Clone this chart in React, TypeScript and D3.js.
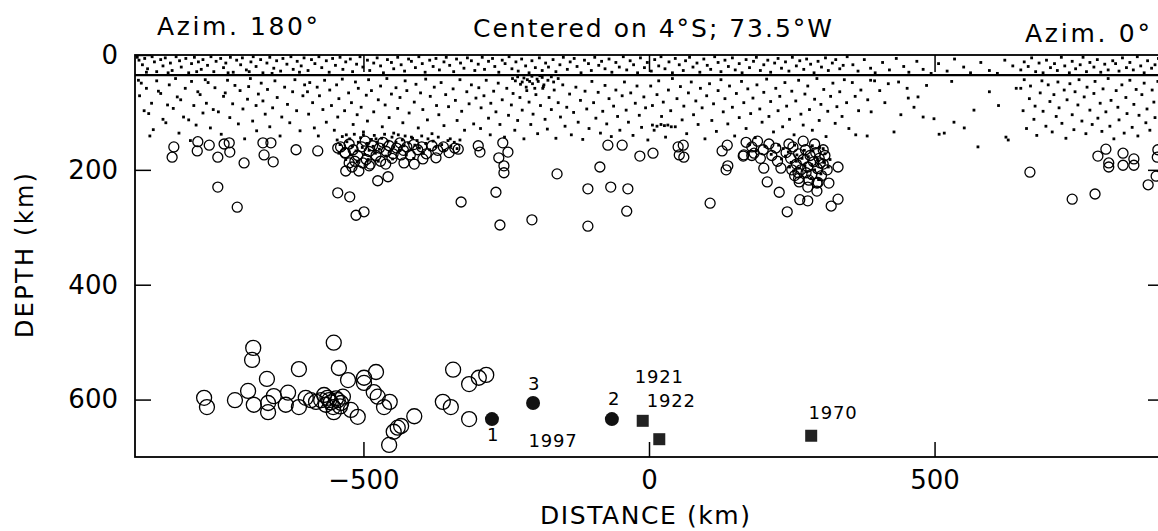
import { useEffect, useRef } from 'react';
import * as d3 from 'd3';

// [distance km, depth km]
type Pt = [number, number];

const xTicks = [-500, 0, 500];
const yTicks = [0, 200, 400, 600];
const mohoDepth = 35;

// shallow events above the 35 km line
const crustDots: Pt[] = [
  [-896, 4], [-893, 9], [-887, 17], [-883, 6], [-878, 24], [-870, 3], [-866, 12], [-862, 29], [-855, 8], [-851, 19],
  [-847, 5], [-838, 14], [-835, 27], [-828, 3], [-822, 10], [-819, 21], [-811, 6], [-806, 31], [-801, 15], [-796, 4],
  [-789, 12], [-784, 25], [-781, 8], [-773, 18], [-767, 3], [-762, 29], [-758, 11], [-750, 6], [-745, 22], [-741, 14],
  [-733, 4], [-728, 30], [-722, 9], [-715, 17], [-712, 5], [-705, 26], [-697, 12], [-693, 3], [-688, 20], [-680, 8],
  [-676, 31], [-669, 14], [-664, 4], [-657, 23], [-652, 10], [-645, 28], [-641, 6], [-634, 16], [-627, 3], [-623, 25],
  [-616, 11], [-609, 19], [-604, 5], [-880, 30], [-842, 31], [-792, 29], [-737, 31], [-700, 29], [-660, 32], [-612, 30],
  [-597, 27], [-591, 8], [-585, 15], [-578, 3], [-573, 22], [-565, 10], [-560, 30], [-554, 6], [-549, 18], [-541, 4],
  [-536, 25], [-531, 12], [-523, 7], [-519, 29], [-512, 16], [-506, 3], [-501, 21], [-493, 9], [-489, 27], [-482, 14],
  [-476, 5], [-470, 19], [-465, 31], [-458, 8], [-451, 13], [-447, 24], [-440, 4], [-434, 17], [-428, 28], [-421, 7],
  [-416, 11], [-409, 22], [-403, 3], [-397, 15], [-392, 30], [-384, 9], [-378, 20], [-373, 6], [-367, 26], [-359, 12],
  [-355, 4], [-349, 18], [-342, 29], [-337, 7], [-330, 14], [-324, 23], [-318, 5], [-311, 10], [-305, 27],
  [-299, 16], [-292, 4], [-288, 25], [-281, 11], [-274, 6], [-270, 20], [-263, 30], [-257, 9], [-252, 15], [-245, 3],
  [-240, 24], [-233, 12], [-229, 28], [-223, 7], [-216, 19], [-210, 31], [-205, 10], [-199, 22], [-192, 5], [-187, 27],
  [-181, 14], [-176, 21], [-168, 8], [-163, 29], [-156, 17], [-150, 4], [-143, 25], [-138, 12], [-131, 6], [-126, 20],
  [-119, 31], [-113, 9], [-106, 15], [-101, 27], [-95, 4], [-88, 18], [-83, 11], [-77, 24], [-70, 7], [-65, 30],
  [-58, 13], [-52, 21], [-45, 3], [-39, 26], [-33, 10], [-27, 17], [-20, 31], [-15, 5], [-8, 22], [-3, 13],
  [4, 28], [10, 8], [17, 19], [21, 3], [28, 24], [35, 12], [41, 31], [46, 6], [53, 17], [60, 27],
  [64, 10], [71, 4], [77, 21], [84, 14], [89, 30], [96, 7], [102, 18], [108, 25], [115, 3], [121, 13],
  [126, 29], [133, 9], [139, 20], [146, 5], [151, 26], [158, 15], [163, 31], [170, 8], [176, 22], [183, 11],
  [188, 4], [195, 27], [201, 17], [208, 9], [213, 30], [220, 14], [226, 6], [232, 23], [239, 12], [245, 28],
  [251, 4], [258, 19], [264, 10], [271, 25], [276, 7], [283, 16], [289, 31], [296, 11], [302, 21], [309, 5],
  [314, 27], [321, 14], [327, 8], [334, 24], [340, 18], [347, 3],
  [357, 17], [366, 28], [377, 8], [388, 23], [396, 31], [409, 13], [421, 26], [433, 6], [446, 20], [455, 30],
  [469, 11], [480, 25], [494, 32], [507, 15], [522, 28], [535, 7], [551, 21], [563, 31], [581, 13], [596, 27],
  [610, 32], [623, 9], [637, 19],
  [651, 26], [657, 12], [664, 20], [670, 5], [677, 29], [683, 14], [690, 31], [696, 9], [703, 22], [710, 15],
  [715, 27], [722, 4], [728, 19], [736, 31], [741, 11], [747, 24], [755, 17], [760, 4], [766, 29], [772, 13],
  [779, 21], [785, 8], [791, 30], [798, 16], [804, 26], [812, 10], [817, 15], [823, 28], [829, 5], [836, 22],
  [842, 13], [848, 26], [855, 3], [861, 19], [867, 31], [873, 10], [880, 23], [886, 17], [892, 6], [897, 29],
];

// shallow events below the 35 km line
const mantleDots: Pt[] = [
  [-894, 44], [-889, 49], [-892, 71], [-880, 58], [-884, 97], [-876, 102], [-871, 84], [-868, 130], [-874, 141], [-859, 63],
  [-862, 45], [-855, 67], [-851, 112], [-846, 118], [-840, 52], [-843, 87], [-833, 93], [-829, 41], [-826, 73], [-820, 78],
  [-823, 136], [-812, 58], [-815, 108], [-806, 113], [-801, 46], [-797, 88], [-803, 149], [-790, 64], [-786, 69], [-793, 122],
  [-781, 101], [-777, 43], [-772, 48], [-775, 84], [-768, 127], [-760, 57], [-763, 95], [-754, 99], [-749, 138], [-745, 72],
  [-742, 66], [-738, 44], [-734, 109], [-729, 85], [-725, 53], [-719, 120], [-716, 62], [-711, 94], [-708, 146], [-703, 77],
  [-698, 41], [-701, 55], [-694, 115], [-688, 88], [-684, 68], [-687, 132], [-679, 49], [-672, 103], [-676, 80], [-668, 60],
  [-664, 125], [-659, 92], [-655, 45], [-651, 74], [-646, 141], [-643, 108], [-638, 56], [-633, 86], [-629, 118], [-624, 64],
  [-620, 43], [-617, 97], [-611, 132], [-606, 71], [-603, 52],
  [-598, 64], [-594, 48], [-596, 103], [-589, 83], [-586, 127], [-581, 56], [-577, 71], [-579, 141], [-571, 95], [-568, 44],
  [-565, 117], [-559, 61], [-556, 88], [-551, 131], [-547, 52], [-543, 76], [-545, 108], [-537, 42], [-533, 97], [-530, 139],
  [-526, 66], [-521, 83], [-518, 121], [-514, 47], [-509, 58], [-511, 104], [-504, 91], [-500, 134], [-495, 70], [-491, 43],
  [-493, 115], [-486, 62], [-482, 99], [-478, 146], [-474, 78], [-470, 54], [-467, 125], [-462, 87], [-459, 41], [-455, 109],
  [-451, 68], [-447, 136], [-443, 57], [-440, 93], [-436, 74], [-431, 118], [-427, 45], [-424, 62], [-420, 101], [-416, 143],
  [-411, 82], [-408, 51], [-404, 127], [-400, 66], [-396, 95], [-391, 42], [-388, 113], [-383, 72], [-380, 137], [-376, 56],
  [-372, 88], [-368, 104], [-364, 48], [-359, 123], [-356, 69], [-351, 90], [-348, 146], [-343, 59], [-339, 79], [-336, 114],
  [-331, 43], [-328, 98], [-323, 131], [-319, 64], [-315, 85], [-311, 52], [-307, 120], [-303, 75],
  // cluster under -500
  [-546, 148], [-541, 156], [-543, 171], [-537, 142], [-533, 163], [-529, 151], [-531, 182], [-524, 146], [-520, 159], [-522, 174],
  [-516, 138], [-513, 167], [-509, 152], [-511, 186], [-505, 144], [-502, 161], [-498, 173], [-500, 139], [-494, 154], [-490, 166],
  [-492, 182], [-486, 147], [-483, 159], [-479, 171], [-481, 140], [-476, 152], [-472, 164], [-474, 185], [-468, 145], [-465, 157],
  [-461, 176], [-463, 138], [-457, 150], [-454, 168], [-450, 143], [-447, 160], [-449, 181], [-443, 152], [-439, 139], [-436, 166],
  [-432, 148], [-429, 158], [-425, 174], [-427, 141], [-421, 153], [-417, 165], [-414, 145], [-410, 157], [-412, 180], [-406, 149],
  [-402, 162], [-398, 141], [-395, 171], [-391, 154], [-387, 146], [-384, 165], [-378, 150], [-373, 160], [-369, 143], [-363, 156],
  [-358, 166], [-352, 149], [-347, 159], [-341, 152], [-336, 163], [-331, 148],
  [-298, 57], [-294, 92], [-295, 128], [-289, 71], [-285, 44], [-281, 110], [-277, 84], [-278, 139], [-272, 63], [-268, 99],
  [-264, 49], [-261, 121], [-257, 78], [-253, 143], [-249, 58], [-246, 105], [-241, 87], [-238, 67], [-235, 131], [-230, 114],
  [-226, 74], [-222, 96], [-219, 146], [-214, 62], [-210, 82], [-207, 121], [-203, 103], [-198, 69], [-195, 137], [-190, 88],
  [-186, 58], [-182, 112], [-178, 129], [-175, 74], [-171, 95], [-166, 61], [-163, 145], [-159, 83], [-155, 108], [-151, 52],
  [-147, 124], [-144, 91], [-139, 68], [-136, 139], [-132, 100], [-128, 56], [-124, 117], [-120, 79], [-116, 147], [-112, 63],
  [-109, 94], [-105, 128], [-100, 46], [-97, 83], [-93, 110], [-89, 65], [-85, 136], [-81, 98], [-77, 53], [-74, 120],
  [-70, 76], [-66, 142], [-62, 89], [-58, 61], [-55, 107], [-51, 131], [-47, 71], [-43, 47], [-40, 96], [-36, 117],
  [-32, 66], [-28, 140], [-24, 84], [-21, 54], [-17, 105], [-13, 126], [-9, 73], [-6, 92], [-2, 148],
  [-239, 41], [-234, 45], [-230, 38], [-222, 47], [-219, 40], [-213, 43], [-205, 37], [-204, 50], [-196, 42], [-194, 46],
  [-187, 39], [-184, 52], [-177, 44], [-171, 38], [-167, 47], [-159, 41], [-215, 56], [-200, 58], [-185, 55], [-225, 51],
  [-209, 46], [-191, 36],
  [6, 122], [14, 124], [21, 121], [27, 123], [33, 122], [39, 125],
  [3, 54], [6, 88], [9, 131], [14, 69], [17, 45], [22, 107], [25, 82], [29, 143], [34, 61], [38, 97],
  [41, 41], [46, 125], [49, 76], [55, 55], [58, 113], [61, 89], [66, 137], [69, 66], [74, 47], [78, 104],
  [82, 80], [86, 121], [90, 58], [93, 92], [98, 146], [101, 71], [106, 50], [110, 114], [113, 85], [118, 133],
  [121, 62], [126, 43], [130, 99], [133, 76], [138, 120], [141, 54], [146, 91], [150, 141], [153, 67], [158, 109],
  [162, 46], [166, 83], [170, 128], [173, 59], [178, 102], [182, 75], [186, 144], [189, 52], [194, 94], [198, 117],
  [201, 65], [206, 42], [210, 107], [213, 81], [218, 134], [222, 58], [226, 97], [229, 72], [234, 125], [238, 48],
  [241, 89], [246, 112], [250, 63], [254, 139], [257, 80], [262, 44], [266, 103], [270, 122], [273, 68], [278, 54],
  [281, 95], [286, 131], [290, 77], [294, 41], [298, 114], [301, 86], [306, 60], [310, 142], [313, 98], [318, 72],
  [322, 49], [326, 119], [329, 90], [334, 64], [338, 107], [342, 43], [346, 83], [350, 128],
  // cluster near 280 km
  [235, 163], [239, 176], [244, 169], [249, 187], [255, 157], [259, 174], [263, 197], [268, 180], [272, 166], [276, 203],
  [279, 177], [285, 191], [287, 167], [290, 200], [296, 184], [299, 161], [301, 207], [306, 187], [308, 172], [314, 195],
  [265, 212], [284, 215], [297, 217], [253, 202], [273, 193], [293, 178], [258, 185], [286, 158], [305, 163], [246, 195],
  [317, 182], [176, 156], [188, 167], [203, 159], [214, 173], [227, 157], [232, 181],
  // sparse stretch
  [356, 48], [361, 72], [367, 97], [388, 44], [404, 62], [419, 50], [441, 104], [452, 58], [383, 78], [389, 99],
  [429, 134], [464, 91], [480, 108], [499, 111], [508, 138], [517, 136], [534, 117], [552, 127], [569, 96], [576, 160],
  [625, 143], [629, 148], [471, 73], [454, 75], [371, 61], [362, 139], [382, 141], [395, 45], [413, 83], [437, 47],
  [486, 53], [530, 46], [596, 64], [612, 88], [643, 58],
  [651, 58], [655, 97], [657, 43], [661, 128], [666, 76], [668, 54], [674, 112], [676, 89], [679, 140], [685, 66],
  [688, 45], [690, 98], [695, 124], [699, 52], [702, 81], [706, 134], [709, 69], [713, 107], [716, 47], [718, 92],
  [723, 119], [727, 61], [730, 145], [732, 78], [737, 50], [741, 104], [744, 130], [746, 64], [751, 87], [753, 43],
  [758, 115], [762, 73], [765, 137], [767, 56], [772, 96], [776, 121], [779, 67], [781, 46], [786, 110], [790, 84],
  [793, 133], [795, 59], [800, 99], [804, 41], [807, 124], [809, 79], [814, 146], [818, 62], [821, 91], [823, 113],
  [828, 52], [832, 136], [835, 74], [837, 102], [842, 44], [846, 126], [849, 86], [853, 60], [856, 141], [858, 105],
  [863, 69], [867, 49], [870, 118], [872, 94], [877, 131], [881, 61], [884, 82], [886, 109], [891, 46], [895, 136],
  [897, 73],
];

// intermediate-depth events, small open circles
const midCircles: Pt[] = [
  [-832, 160], [-835, 178], [-791, 167], [-790, 151], [-770, 157], [-755, 178], [-744, 155], [-734, 169], [-735, 153], [-709, 188],
  [-674, 174], [-658, 186], [-662, 153], [-676, 153], [-618, 165], [-580, 167], [-755, 230], [-721, 265],
  [-545, 162], [-532, 171], [-525, 188], [-531, 202], [-508, 202], [-501, 188], [-490, 193], [-475, 219], [-457, 212],
  [-545, 240], [-524, 247], [-513, 279], [-499, 273], [-461, 190], [-434, 174], [-429, 188], [-411, 190], [-396, 181],
  [-373, 179], [-334, 164], [-329, 256],
  [-540, 160], [-532, 170], [-525, 155], [-518, 165], [-510, 175], [-503, 160], [-497, 150], [-490, 168], [-484, 158], [-478, 175],
  [-472, 162], [-466, 152], [-460, 168], [-455, 158], [-448, 172], [-442, 162], [-436, 153], [-430, 166], [-424, 160], [-418, 174],
  [-412, 156], [-405, 165], [-398, 160], [-390, 172], [-380, 158], [-370, 166], [-360, 160], [-350, 170], [-340, 162],
  [-515, 185], [-495, 182], [-470, 185], [-450, 180], [-520, 195], [-488, 190],
  [-299, 158], [-296, 169], [-256, 153], [-247, 169], [-263, 179], [-254, 193], [-254, 205], [-268, 239], [-261, 296],
  [-205, 287], [-161, 207], [-107, 233], [-107, 298], [-86, 195], [-72, 157], [-47, 157], [-67, 230], [-37, 233], [-39, 272],
  [-16, 176], [7, 171], [51, 160], [53, 174], [61, 178], [60, 157], [107, 258], [128, 167], [137, 157], [135, 200],
  [138, 193], [165, 176],
  [166, 174], [184, 171], [201, 197], [207, 221], [228, 239], [231, 197], [261, 205], [263, 221], [264, 252], [278, 254],
  [242, 273], [278, 230], [294, 223], [294, 237], [315, 223], [319, 263], [331, 251], [331, 195],
  [240, 170], [248, 180], [252, 160], [258, 190], [262, 172], [266, 200], [270, 182], [274, 165], [278, 195], [282, 175],
  [285, 208], [288, 186], [292, 170], [295, 198], [298, 180], [302, 210], [305, 190], [308, 175], [312, 200], [262, 215],
  [280, 218], [296, 222], [250, 200], [245, 155], [270, 150], [290, 155], [305, 165], [255, 210], [275, 205], [300, 188],
  [170, 152], [180, 160], [190, 150], [200, 165], [210, 155], [215, 175], [222, 162], [195, 180], [180, 175], [225, 185],
  [667, 204], [741, 251], [781, 242], [786, 176], [800, 164], [805, 188], [805, 195], [830, 171], [830, 192], [849, 181],
  [849, 192], [874, 226], [888, 211], [890, 178], [891, 165],
];

// deep-focus events, large open circles
const deepCircles: Pt[] = [
  [-779, 597], [-774, 613], [-725, 601], [-702, 585], [-693, 510], [-695, 531], [-692, 609], [-669, 564], [-667, 622], [-667, 606],
  [-657, 594], [-636, 609], [-632, 588], [-613, 547], [-613, 613], [-601, 597], [-592, 601], [-583, 604], [-574, 601], [-569, 592],
  [-566, 609], [-560, 601], [-553, 613], [-552, 622], [-545, 601], [-539, 606], [-536, 595], [-552, 501], [-543, 545], [-527, 566],
  [-522, 618], [-510, 630], [-499, 562], [-499, 571], [-478, 552], [-482, 587], [-475, 595], [-464, 613], [-454, 604], [-455, 679],
  [-447, 656], [-440, 649], [-434, 646], [-411, 629], [-343, 548], [-361, 604], [-347, 613], [-315, 573], [-315, 634], [-298, 562],
  [-285, 557], [-548, 598], [-557, 605], [-541, 612], [-563, 597],
];

// 1997 numbered events (filled circles) and historic events (squares)
const numberedEvents: Pt[] = [[-275, 634], [-203, 606], [-65, 634]];
const historicEvents: Pt[] = [[-11, 637], [18, 669], [284, 663]];

const eventLabels: { text: string; x: number; d: number }[] = [
  { text: '3', x: -201, d: 583 },
  { text: '1', x: -273, d: 672 },
  { text: '2', x: -61, d: 609 },
  { text: '1921', x: 18, d: 571 },
  { text: '1922', x: 39, d: 613 },
  { text: '1997', x: -168, d: 682 },
  { text: '1970', x: 322, d: 634 },
];

const font = '"DejaVu Sans", "Liberation Sans", sans-serif';

export default function App() {
  const svgRef = useRef<SVGSVGElement | null>(null);

  useEffect(() => {
    if (!svgRef.current) return;
    const svg = d3.select(svgRef.current);
    svg.selectAll('*').remove();

    const x = d3.scaleLinear().domain([-900, 900]).range([135, 1163]);
    const y = d3.scaleLinear().domain([0, 700]).range([55, 457]);
    const [x0, x1] = x.range();
    const [y0, y1] = y.range();

    svg.append('rect').attr('width', 1158).attr('height', 531).attr('fill', '#fff');

    svg
      .append('rect')
      .attr('x', x0)
      .attr('y', y0)
      .attr('width', x1 - x0)
      .attr('height', y1 - y0)
      .attr('fill', 'none')
      .attr('stroke', '#000')
      .attr('stroke-width', 1.8);

    svg
      .append('line')
      .attr('x1', x0)
      .attr('x2', x1)
      .attr('y1', y(mohoDepth))
      .attr('y2', y(mohoDepth))
      .attr('stroke', '#000')
      .attr('stroke-width', 2.4);

    svg
      .append('g')
      .selectAll('rect')
      .data([...crustDots, ...mantleDots])
      .join('rect')
      .attr('x', (d) => x(d[0]) - 1.4)
      .attr('y', (d) => y(d[1]) - 1.4)
      .attr('width', 2.8)
      .attr('height', 2.8)
      .attr('fill', '#000');

    svg
      .append('g')
      .selectAll('circle')
      .data(midCircles)
      .join('circle')
      .attr('cx', (d) => x(d[0]))
      .attr('cy', (d) => y(d[1]))
      .attr('r', 5)
      .attr('fill', 'none')
      .attr('stroke', '#000')
      .attr('stroke-width', 1.3);

    svg
      .append('g')
      .selectAll('circle')
      .data(deepCircles)
      .join('circle')
      .attr('cx', (d) => x(d[0]))
      .attr('cy', (d) => y(d[1]))
      .attr('r', 7.5)
      .attr('fill', 'none')
      .attr('stroke', '#000')
      .attr('stroke-width', 1.3);

    svg
      .append('g')
      .selectAll('circle')
      .data(numberedEvents)
      .join('circle')
      .attr('cx', (d) => x(d[0]))
      .attr('cy', (d) => y(d[1]))
      .attr('r', 7)
      .attr('fill', '#111');

    svg
      .append('g')
      .selectAll('rect')
      .data(historicEvents)
      .join('rect')
      .attr('x', (d) => x(d[0]) - 6)
      .attr('y', (d) => y(d[1]) - 6)
      .attr('width', 12)
      .attr('height', 12)
      .attr('fill', '#222');

    svg
      .append('g')
      .selectAll('text')
      .data(eventLabels)
      .join('text')
      .attr('x', (d) => x(d.x))
      .attr('y', (d) => y(d.d))
      .attr('text-anchor', 'middle')
      .attr('font-family', font)
      .attr('font-size', 18)
      .attr('letter-spacing', 0.8)
      .attr('fill', '#000')
      .text((d) => d.text);

    // axes: ticks point inward
    const styleAxis = (g: d3.Selection<SVGGElement, unknown, null, undefined>) => {
      g.select('.domain').remove();
      g.selectAll('line').attr('stroke', '#000').attr('stroke-width', 1.5);
      g.selectAll('text')
        .attr('font-family', font)
        .attr('font-size', 26)
        .attr('fill', '#000');
    };

    svg
      .append('g')
      .attr('transform', `translate(0,${y1})`)
      .call(d3.axisBottom(x).tickValues(xTicks).tickSize(-15).tickPadding(14))
      .call(styleAxis);

    svg
      .append('g')
      .attr('transform', `translate(0,${y0})`)
      .call(d3.axisTop(x).tickValues(xTicks).tickSize(-17).tickFormat(() => ''))
      .call(styleAxis);

    svg
      .append('g')
      .attr('transform', `translate(${x0},0)`)
      .call(d3.axisLeft(y).tickValues(yTicks).tickSize(-16).tickPadding(17).tickFormat(d3.format('d')))
      .call(styleAxis);

    svg
      .append('g')
      .attr('transform', `translate(${x1},0)`)
      .call(d3.axisRight(y).tickValues(yTicks.slice(1)).tickSize(-15).tickFormat(() => ''))
      .call(styleAxis);

    const addText = (t: string, px: number, py: number, size: number, len: number) =>
      svg
        .append('text')
        .attr('x', px)
        .attr('y', py)
        .attr('font-family', font)
        .attr('font-size', size)
        .attr('textLength', len)
        .attr('lengthAdjust', 'spacing')
        .attr('fill', '#000')
        .text(t);

    addText('Azim. 180°', 157, 35, 25, 161);
    addText('Centered on 4°S; 73.5°W', 473, 37, 25, 359);
    addText('Azim. 0°', 1025, 42, 25, 125);
    addText('DISTANCE (km)', 540, 524, 25, 210);

    svg
      .append('text')
      .attr('transform', 'translate(33,338) rotate(-90)')
      .attr('font-family', font)
      .attr('font-size', 24)
      .attr('textLength', 165)
      .attr('lengthAdjust', 'spacing')
      .attr('fill', '#000')
      .text('DEPTH (km)');
  }, []);

  return (
    <svg
      ref={svgRef}
      width={1158}
      height={531}
      style={{ position: 'absolute', left: 0, top: 0 }}
      role="img"
      aria-label="Depth section"
    />
  );
}
